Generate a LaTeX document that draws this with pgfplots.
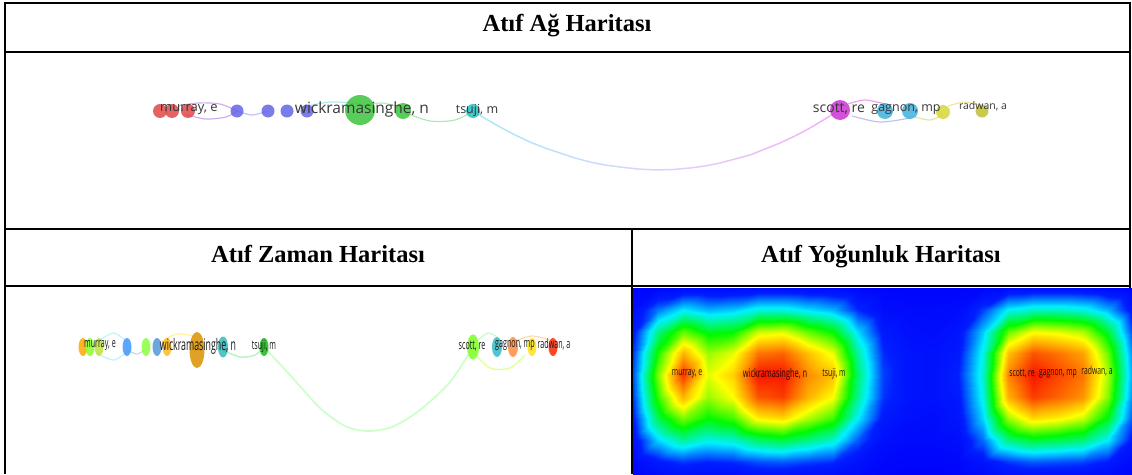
\documentclass[border=0pt]{standalone}
\usepackage{fontspec}
\setmainfont{Liberation Serif}
\newfontfamily\vos{Open Sans}
\usepackage{graphicx}
\usepackage{pgfplots}
\pgfplotsset{compat=1.18}

\definecolor{nred}{RGB}{224,72,72}
\definecolor{nblue}{RGB}{100,100,230}
\definecolor{ngreen}{RGB}{60,196,60}
\definecolor{nteal}{RGB}{34,191,198}
\definecolor{nmag}{RGB}{204,51,212}
\definecolor{ncyan}{RGB}{63,176,221}
\definecolor{nyel}{RGB}{214,214,58}
\definecolor{nyel2}{RGB}{192,192,48}
\definecolor{lab}{RGB}{55,55,55}

\newcommand{\tl}[1]{\scalebox{0.55}[1]{#1}}
\newcommand{\dl}[1]{\scalebox{0.62}[1]{#1}}
\pgfplotsset{
  nd/.style={only marks, mark=*, color=#1, mark options={fill=#1, draw opacity=0, fill opacity=0.85}},
  te/.style 2 args={only marks, mark=*, color=#1, mark options={fill=#1, draw opacity=0, fill opacity=0.85, yscale=#2}},
  pane/.style={at={(0pt,0pt)}, anchor=south west, width=1132pt, height=474pt,
    scale only axis, xmin=0, xmax=1132, ymin=0, ymax=474, y dir=reverse,
    hide axis, clip=false}
}

\begin{document}
\begin{tikzpicture}[x=1pt,y=1pt]
\path[use as bounding box] (0,0) rectangle (1132,474);

% ---------- density map ----------
\begin{axis}[at={(633pt,0pt)}, anchor=south west, width=499pt, height=186pt,
  scale only axis, xmin=633, xmax=1132, ymin=288, ymax=474, y dir=reverse,
  hide axis, clip=true,
  colormap={vos}{rgb255(0cm)=(0,0,250) rgb255(12cm)=(0,30,255) rgb255(30cm)=(0,240,255) rgb255(50cm)=(0,250,0) rgb255(70cm)=(255,255,0) rgb255(85cm)=(255,140,0) rgb255(100cm)=(250,20,0)},
  point meta min=0, point meta max=1]
\addplot[surf, shader=interp, mesh/cols=21, point meta=explicit] coordinates {
(633,288) [0.02] (658,288) [0.03] (683,288) [0.05] (708,288) [0.05] (733,288) [0.05] (758,288) [0.06] (783,288) [0.06] (808,288) [0.05] (833,288) [0.05] (858,288) [0.03] (883,288) [0.02] (908,288) [0.02] (933,288) [0.02] (958,288) [0.02] (983,288) [0.03] (1008,288) [0.05] (1033,288) [0.06] (1058,288) [0.06] (1083,288) [0.06] (1108,288) [0.04] (1132,288) [0.02]

(633,310) [0.06] (658,310) [0.20] (683,310) [0.30] (708,310) [0.25] (733,310) [0.27] (758,310) [0.33] (783,310) [0.33] (808,310) [0.29] (833,310) [0.25] (858,310) [0.13] (883,310) [0.05] (908,310) [0.04] (933,310) [0.04] (958,310) [0.05] (983,310) [0.15] (1008,310) [0.31] (1033,310) [0.35] (1058,310) [0.35] (1083,310) [0.33] (1108,310) [0.25] (1132,310) [0.09]

(633,332) [0.10] (658,332) [0.40] (683,332) [0.58] (708,332) [0.48] (733,332) [0.50] (758,332) [0.66] (783,332) [0.68] (808,332) [0.58] (833,332) [0.50] (858,332) [0.28] (883,332) [0.10] (908,332) [0.06] (933,332) [0.05] (958,332) [0.08] (983,332) [0.27] (1008,332) [0.58] (1033,332) [0.70] (1058,332) [0.68] (1083,332) [0.64] (1108,332) [0.46] (1132,332) [0.16]

(633,353) [0.14] (658,353) [0.52] (683,353) [0.80] (708,353) [0.62] (733,353) [0.68] (758,353) [0.88] (783,353) [0.90] (808,353) [0.78] (833,353) [0.68] (858,353) [0.37] (883,353) [0.13] (908,353) [0.08] (933,353) [0.07] (958,353) [0.10] (983,353) [0.32] (1008,353) [0.78] (1033,353) [0.92] (1058,353) [0.88] (1083,353) [0.82] (1108,353) [0.58] (1132,353) [0.21]

(633,375) [0.16] (658,375) [0.60] (683,375) [0.96] (708,375) [0.68] (733,375) [0.76] (758,375) [1.00] (783,375) [1.00] (808,375) [0.85] (833,375) [0.78] (858,375) [0.41] (883,375) [0.15] (908,375) [0.08] (933,375) [0.07] (958,375) [0.12] (983,375) [0.34] (1008,375) [0.86] (1033,375) [1.00] (1058,375) [0.94] (1083,375) [0.88] (1108,375) [0.63] (1132,375) [0.23]

(633,397) [0.14] (658,397) [0.54] (683,397) [0.80] (708,397) [0.62] (733,397) [0.70] (758,397) [0.92] (783,397) [0.95] (808,397) [0.80] (833,397) [0.70] (858,397) [0.38] (883,397) [0.14] (908,397) [0.08] (933,397) [0.07] (958,397) [0.10] (983,397) [0.32] (1008,397) [0.80] (1033,397) [0.95] (1058,397) [0.90] (1083,397) [0.84] (1108,397) [0.60] (1132,397) [0.21]

(633,418) [0.11] (658,418) [0.44] (683,418) [0.60] (708,418) [0.50] (733,418) [0.55] (758,418) [0.72] (783,418) [0.75] (808,418) [0.64] (833,418) [0.55] (858,418) [0.30] (883,418) [0.10] (908,418) [0.06] (933,418) [0.05] (958,418) [0.08] (983,418) [0.28] (1008,418) [0.62] (1033,418) [0.75] (1058,418) [0.72] (1083,418) [0.66] (1108,418) [0.48] (1132,418) [0.17]

(633,440) [0.07] (658,440) [0.28] (683,440) [0.38] (708,440) [0.32] (733,440) [0.34] (758,440) [0.42] (783,440) [0.45] (808,440) [0.40] (833,440) [0.34] (858,440) [0.17] (883,440) [0.06] (908,440) [0.04] (933,440) [0.04] (958,440) [0.05] (983,440) [0.19] (1008,440) [0.40] (1033,440) [0.46] (1058,440) [0.44] (1083,440) [0.41] (1108,440) [0.30] (1132,440) [0.10]

(633,462) [0.03] (658,462) [0.10] (683,462) [0.14] (708,462) [0.12] (733,462) [0.13] (758,462) [0.16] (783,462) [0.17] (808,462) [0.15] (833,462) [0.13] (858,462) [0.07] (883,462) [0.03] (908,462) [0.02] (933,462) [0.02] (958,462) [0.03] (983,462) [0.08] (1008,462) [0.14] (1033,462) [0.17] (1058,462) [0.16] (1083,462) [0.15] (1108,462) [0.11] (1132,462) [0.04]

(633,474) [0.02] (658,474) [0.05] (683,474) [0.07] (708,474) [0.06] (733,474) [0.06] (758,474) [0.08] (783,474) [0.08] (808,474) [0.07] (833,474) [0.06] (858,474) [0.04] (883,474) [0.02] (908,474) [0.01] (933,474) [0.01] (958,474) [0.02] (983,474) [0.04] (1008,474) [0.07] (1033,474) [0.08] (1058,474) [0.08] (1083,474) [0.07] (1108,474) [0.05] (1132,474) [0.03]
};
\begin{scope}[every node/.style={font=\vos\fontsize{11}{11}\selectfont, text=black, text opacity=0.85, inner sep=0pt}]
\node at (axis cs:687,374) {\dl{murray, e}};
\node[font=\vos\fontsize{12}{12}\selectfont] at (axis cs:775,374) {\dl{wickramasinghe, n}};
\node at (axis cs:834,374) {\dl{tsuji, m}};
\node at (axis cs:1022,374) {\dl{scott, re}};
\node at (axis cs:1058,374) {\dl{gagnon, mp}};
\node at (axis cs:1097,371) {\dl{radwan, a}};
\end{scope}
\end{axis}

% ---------- network and timeline maps: edges and nodes ----------
\begin{axis}[pane,
  colormap={edge}{rgb255(0cm)=(165,235,245) rgb255(1cm)=(222,212,250) rgb255(2cm)=(242,178,242)},
  point meta min=473, point meta max=840]

% network edges
\addplot[smooth, color=nmag!40!nblue!45, line width=1.2pt] coordinates {(178,106) (198,103) (220,104) (237,111)};
\addplot[smooth, color=nmag!40!nblue!45, line width=1.2pt] coordinates {(185,114) (205,119) (226,117) (237,111)};
\addplot[smooth, color=nblue!40, line width=1.2pt] coordinates {(237,111) (252,115) (268,111)};
\addplot[smooth, color=nteal!35, line width=1.2pt] coordinates {(300,108) (330,102) (360,104)};
\addplot[smooth, color=ngreen!35, line width=1.2pt] coordinates {(360,106) (382,103) (403,108)};
\addplot[smooth, color=ngreen!40, line width=1.2pt] coordinates {(403,112) (430,121) (455,120) (473,111)};
\addplot[mesh, point meta=x, line width=1.5pt] coordinates {(473,111) (486,119) (500,127) (515,135) (530,142) (545,148) (560,153) (575,158) (590,162) (605,165) (620,167) (638,169) (657,170) (673,169.5) (690,168) (705,166) (720,163) (735,159) (750,155) (765,149) (780,143) (795,136) (810,128) (825,119) (840,110)};
\addplot[smooth, color=nmag!45, line width=1.2pt] coordinates {(848,104) (865,100) (885,104)};
\addplot[smooth, color=nblue!40, line width=1.2pt] coordinates {(852,116) (880,122) (910,118)};
\addplot[smooth, color=nyel!55, line width=1.2pt] coordinates {(915,117) (930,120) (943,115)};
\addplot[smooth, color=nyel!50, line width=1.2pt] coordinates {(948,106) (965,102) (982,106)};

% network nodes
\addplot[nd=nred, mark size=7] coordinates {(160,111) (172,111) (188,111)};
\addplot[nd=nblue, mark size=6.5] coordinates {(237,111) (268,111) (287,111) (307,111)};
\addplot[nd=ngreen, mark size=15] coordinates {(360,110)};
\addplot[nd=ngreen, mark size=8] coordinates {(403,111)};
\addplot[nd=nteal, mark size=7] coordinates {(473,111)};
\addplot[nd=nmag, mark size=10] coordinates {(840,110)};
\addplot[nd=ncyan, mark size=8] coordinates {(885,111) (910,111)};
\addplot[nd=nyel, mark size=7] coordinates {(943,112)};
\addplot[nd=nyel2, mark size=6.5] coordinates {(982,111)};

% timeline edges
\addplot[smooth, color=blue!20!cyan!25, line width=1.2pt] coordinates {(100,340) (114,333) (127,342)};
\addplot[smooth, color=blue!20!cyan!25, line width=1.2pt] coordinates {(100,355) (114,360) (127,352)};
\addplot[smooth, color=teal!25, line width=1.2pt] coordinates {(127,350) (137,354) (146,349)};
\addplot[smooth, color=orange!30!yellow!40, line width=1.2pt] coordinates {(157,344) (177,334) (197,337)};
\addplot[smooth, color=teal!25!green!30, line width=1.4pt] coordinates {(223,350) (240,357) (255,355) (264,347)};
\addplot[smooth, color=green!20, line width=1.8pt] coordinates {(264,347) (290,375) (320,408) (345,426) (367,431) (392,427) (420,410) (450,382) (473,347)};
\addplot[smooth, color=green!30!yellow!35, line width=1.6pt] coordinates {(473,352) (490,368) (510,368) (525,355)};
\addplot[smooth, color=green!25, line width=1.2pt] coordinates {(478,340) (488,333) (497,337)};
\addplot[smooth, color=orange!30, line width=1.2pt] coordinates {(513,342) (532,336) (553,341)};

% timeline nodes
\addplot[te={orange!70!yellow}{2}, mark size=4.5] coordinates {(83,347)};
\addplot[te={green!55!yellow!85}{2}, mark size=4.5] coordinates {(90,347)};
\addplot[te={yellow!70!green!85}{2}, mark size=4.5] coordinates {(99,347)};
\addplot[te={blue!55!cyan!75}{2}, mark size=4.5] coordinates {(127,347)};
\addplot[te={green!60!yellow!75}{2}, mark size=4.5] coordinates {(146,347)};
\addplot[te={cyan!60!blue!70}{2}, mark size=4.5] coordinates {(157,347)};
\addplot[te={orange!60!yellow!90}{2}, mark size=4.5] coordinates {(167,347)};
\addplot[te={orange!65!yellow!85!black}{2.4}, mark size=7.5] coordinates {(197,350)};
\addplot[te={cyan!60!green!80}{2.1}, mark size=5] coordinates {(223,347)};
\addplot[te={green!70!black!90}{2}, mark size=4.5] coordinates {(264,347)};
\addplot[te={green!60!yellow!85}{2.1}, mark size=6] coordinates {(473,347)};
\addplot[te={cyan!70!green!80}{2}, mark size=5] coordinates {(497,347)};
\addplot[te={orange!80!red!75}{2}, mark size=5] coordinates {(513,347)};
\addplot[te={yellow!80!orange!90}{2}, mark size=4.5] coordinates {(532,347)};
\addplot[te={red!70!orange}{2}, mark size=4.5] coordinates {(553,347)};
\end{axis}

% ---------- labels, frame and headers on top ----------
\begin{axis}[pane]
\begin{scope}[every node/.style={text=lab, inner sep=0pt}]
\node[font=\vos\fontsize{13}{13}\selectfont] at (axis cs:189,110) {murray, e};
\node[font=\vos\fontsize{15.5}{15}\selectfont] at (axis cs:362,109) {wickramasinghe, n};
\node[font=\vos\fontsize{12.5}{13}\selectfont] at (axis cs:477,110) {tsuji, m};
\node[font=\vos\fontsize{14}{14}\selectfont] at (axis cs:839,109) {scott, re};
\node[font=\vos\fontsize{12.5}{13}\selectfont] at (axis cs:906,110) {gagnon, mp};
\node[font=\vos\fontsize{10.5}{11}\selectfont] at (axis cs:983,106) {radwan, a};
\end{scope}

\begin{scope}[every node/.style={font=\vos\fontsize{13}{13}\selectfont, text=black!90, inner sep=0pt}]
\node at (axis cs:100,346) {\tl{murray, e}};
\node[font=\vos\fontsize{16}{16}\selectfont] at (axis cs:198,346) {\tl{wickramasinghe, n}};
\node at (axis cs:264,346) {\tl{tsuji, m}};
\node at (axis cs:472,346) {\tl{scott, re}};
\node at (axis cs:515,346) {\tl{gagnon, mp}};
\node at (axis cs:554,344) {\tl{radwan, a}};
\end{scope}

\draw[line width=2.5pt] (axis cs:5,3) -- (axis cs:1130,3);
\draw[line width=2.5pt] (axis cs:5,1.8) -- (axis cs:5,474);
\draw[line width=2.5pt] (axis cs:1130,1.8) -- (axis cs:1130,288);
\draw[line width=2.5pt] (axis cs:5,52) -- (axis cs:1130,52);
\draw[line width=2.5pt] (axis cs:5,229) -- (axis cs:1130,229);
\draw[line width=2.2pt] (axis cs:5,286) -- (axis cs:1130,286);
\draw[line width=2.5pt] (axis cs:632,229) -- (axis cs:632,474);

\node[anchor=base, font=\bfseries\fontsize{24.5}{28}\selectfont] at (axis cs:567,31) {Atıf Ağ Haritası};
\node[anchor=base, font=\bfseries\fontsize{24.5}{28}\selectfont] at (axis cs:318,262) {Atıf Zaman Haritası};
\node[anchor=base, font=\bfseries\fontsize{24.5}{28}\selectfont] at (axis cs:881,262) {Atıf Yoğunluk Haritası};
\end{axis}
\end{tikzpicture}
\end{document}
